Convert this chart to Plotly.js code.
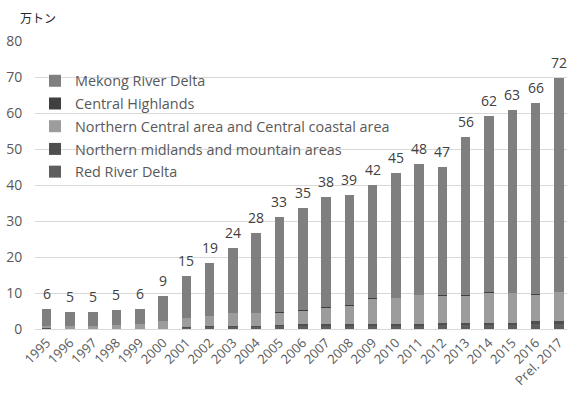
<!DOCTYPE html>
<html><head><meta charset="utf-8">
<script src="https://cdn.plot.ly/plotly-3.0.1.min.js"></script>
<style>html,body{margin:0;padding:0;background:#fff}#chart{width:567px;height:397px}</style>
</head><body><div id="chart"></div>
<script>
const years = ["1995","1996","1997","1998","1999","2000","2001","2002","2003","2004","2005","2006","2007","2008","2009","2010","2011","2012","2013","2014","2015","2016","Prel. 2017"];
const redRiverDelta = [0.1,0.05,0.05,0.05,0.05,0.05,0.3,0.5,0.6,0.6,0.7,0.8,0.9,0.9,0.9,0.85,0.85,1.0,1.0,1.1,1.1,1.3,1.4];
const northernMidlands = [0.1,0.05,0.05,0.05,0.05,0.05,0.2,0.3,0.35,0.35,0.4,0.5,0.5,0.5,0.5,0.5,0.5,0.6,0.6,0.7,0.7,0.8,0.8];
const northernCentral = [0.5,0.6,0.6,0.9,1.2,2.0,2.5,2.7,3.5,3.5,3.4,3.8,4.5,5.1,7.0,7.3,8.0,7.7,7.7,8.3,8.1,7.4,8.0];
const centralHighlands = [0.02,0.02,0.02,0.02,0.02,0.05,0.1,0.1,0.1,0.1,0.1,0.1,0.1,0.1,0.1,0.1,0.1,0.1,0.1,0.1,0.1,0.1,0.1];
const mekongDelta = [4.7,4.1,4.0,4.2,4.1,6.9,11.7,14.6,18.0,22.1,26.5,28.4,30.8,30.5,31.6,34.5,36.3,35.5,43.9,49.1,50.9,53.3,59.4];
const totalLabels = [6,5,5,5,6,9,15,19,24,28,33,35,38,39,42,45,48,47,56,62,63,66,72];

const seriesNames = ["Red River Delta","Northern midlands and mountain areas","Northern Central area and Central coastal area","Central Highlands","Mekong River Delta"];
const seriesData = [redRiverDelta, northernMidlands, northernCentral, centralHighlands, mekongDelta];
const seriesColors = ["#5e5e5e","#4f4f4f","#9c9c9c","#404040","#7f7f7f"];

const FONT = '"Open Sans", "Noto Sans", sans-serif';
const TXT = '#595959';

const traces = seriesData.map((d, i) => ({
  type: 'bar', x: years, y: d, name: seriesNames[i],
  legendgroup: 'g' + i, legendrank: 1000 - i,
  marker: {color: seriesColors[i], line: {width: 0}},
  hoverinfo: 'skip'
}));

const stackTop = years.map((_, j) => seriesData.reduce((s, d) => s + d[j], 0));
const labelAnn = years.map((y, j) => ({
  x: j, y: stackTop[j], xref: 'x', yref: 'y', text: String(totalLabels[j]),
  showarrow: false, yanchor: 'bottom', yshift: 4,
  font: {family: FONT, size: 14, color: '#404040'}
}));

const layout = {
  width: 567, height: 397,
  margin: {l: 35, r: 0, t: 41, b: 68},
  paper_bgcolor: '#fff', plot_bgcolor: '#fff',
  barmode: 'stack', bargap: 0.59,
  font: {family: FONT, color: TXT},
  xaxis: {
    type: 'category', range: [-0.5, 22.35], tickangle: -45,
    showgrid: false, showline: true, linecolor: '#d9d9d9', linewidth: 1,
    ticks: '', tickfont: {family: FONT, size: 13, color: TXT}, fixedrange: true
  },
  yaxis: {
    range: [0, 80], dtick: 10, showgrid: true, gridcolor: '#d9d9d9', gridwidth: 1,
    zeroline: false, showline: false, ticks: 'outside', ticklen: 9, tickcolor: 'rgba(0,0,0,0)',
    tickfont: {family: FONT, size: 14, color: TXT}, fixedrange: true
  },
  showlegend: true,
  legend: {
    x: 0.0, y: 0.917, xanchor: 'left', yanchor: 'top',
    traceorder: 'grouped', tracegroupgap: 1,
    bgcolor: 'rgba(255,255,255,0)', font: {family: FONT, size: 14.4, color: TXT}
  },
  annotations: [{
    xref: 'paper', yref: 'paper', x: -0.032, y: 1.081, xanchor: 'left', yanchor: 'middle',
    text: '万トン', showarrow: false, font: {family: '"Noto Sans CJK JP", sans-serif', size: 12, color: '#262626'}
  }].concat(labelAnn)
};

Plotly.newPlot('chart', traces, layout, {displayModeBar: false, staticPlot: true});
</script>
</body></html>
